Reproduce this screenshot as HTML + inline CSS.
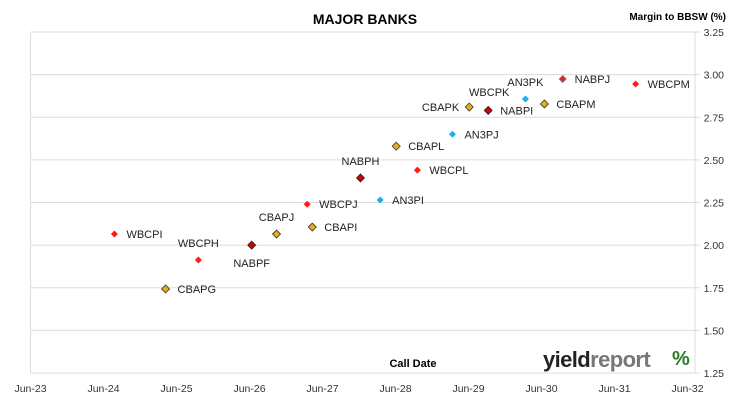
<!DOCTYPE html>
<html><head><meta charset="utf-8"><style>
body{margin:0;background:#fff}
svg{display:block;font-family:"Liberation Sans",sans-serif}
</style></head><body>
<svg id="chart" width="730" height="400">
<text x="365" y="24" text-anchor="middle" font-size="14" font-weight="bold">MAJOR BANKS</text>
<text x="726" y="20" text-anchor="end" font-size="10" font-weight="bold">Margin to BBSW (%)</text>
<text x="413" y="367" text-anchor="middle" font-size="11" font-weight="bold">Call Date</text>
<g id="grid"></g><g id="marks"></g>
<text x="543" y="367" font-size="22" font-weight="bold" letter-spacing="-0.6"><tspan fill="#222">yield</tspan><tspan fill="#777">report</tspan></text>
<text x="672" y="365" font-size="20" font-weight="bold" fill="#2a7a2a">%</text>
</svg>
<script>
const names=["WBCPI","CBAPG","WBCPH","NABPF","CBAPJ","WBCPJ","CBAPI","NABPH","AN3PI","CBAPL","WBCPL","AN3PJ","WBCPK","CBAPK","NABPI","AN3PK","CBAPM","NABPJ","WBCPM"];
const dates=[2024.65,2025.35,2025.80,2026.53,2026.87,2027.29,2027.36,2028.02,2028.29,2028.51,2028.80,2029.28,2029.51,2029.51,2029.77,2030.28,2030.54,2030.79,2031.79];
const margins=[2.065,1.743,1.913,2.0,2.065,2.24,2.106,2.394,2.265,2.58,2.44,2.65,2.81,2.81,2.79,2.857,2.828,2.974,2.945];
const issuers=["WBC","CBA","WBC","NAB","CBA","WBC","CBA","NAB","ANZ","CBA","WBC","ANZ","WBC","CBA","NAB","ANZ","CBA","NAB2","WBC"];
const labelPos=["r","r","a","b","a","r","r","a","r","r","r","r","a2","l","r","a","r","r","r"];
const yTicks=["1.25","1.50","1.75","2.00","2.25","2.50","2.75","3.00","3.25"];
const xTicks=["Jun-23","Jun-24","Jun-25","Jun-26","Jun-27","Jun-28","Jun-29","Jun-30","Jun-31","Jun-32"];
const L=30.5,R=695,T=32,B=373;
const x=t=>L+(t-2023.5)*73;
const y=v=>B-(v-1.25)/2*(B-T);
const NS="http://www.w3.org/2000/svg";
function mk(tag,attrs,parent,txt){const e=document.createElementNS(NS,tag);for(const k in attrs)e.setAttribute(k,attrs[k]);if(txt!==undefined)e.textContent=txt;parent.appendChild(e);return e;}
const grid=document.getElementById('grid'),marks=document.getElementById('marks');
yTicks.forEach((t,i)=>{const yy=y(parseFloat(t));
 const ln=mk('line',{x1:L,x2:R+5,y1:yy,y2:yy,stroke:'#dcdcdc','stroke-width':1},grid);
 
 
 const tx=mk('text',{x:724,y:yy+4,'text-anchor':'end','font-size':10.5,fill:'#333'},grid,t);
 
 
});
const ax=mk('line',{x1:L,x2:L,y1:T,y2:B,stroke:'#dcdcdc'},grid);


const ax2=mk('line',{x1:R,x2:R,y1:T,y2:B,stroke:'#dcdcdc'},grid);


xTicks.forEach((t,i)=>{
 const tx=mk('text',{x:x(2023.5+i),y:392,'text-anchor':'middle','font-size':10.5,fill:'#333'},grid,t);
 
 
});
const style={WBC:{f:'#ff1a1a',s:'none',r:3.5},CBA:{f:'#e6b012',s:'#333',r:4},NAB:{f:'#d40000',s:'#222',r:4},ANZ:{f:'#1ab0f0',s:'none',r:3.5},NAB2:{f:'#ff1a1a',s:'#6a70b0',r:3.5}};
names.forEach((n,i)=>{
 const cx=x(dates[i]),cy=y(margins[i]),st=style[issuers[i]],r=st.r;
 const p=mk('polygon',{points:`${cx},${cy-r} ${cx+r},${cy} ${cx},${cy+r} ${cx-r},${cy}`,fill:st.f,stroke:st.s,'stroke-width':0.8},marks);
 
 
 let lx=cx+12,ly=cy+4,anc='start';const lp=labelPos[i];
 if(lp==='a'){lx=cx;ly=cy-13;anc='middle';}
 if(lp==='a2'){lx=cx+20;ly=cy-11;anc='middle';}
 if(lp==='b'){lx=cx;ly=cy+22;anc='middle';}
 if(lp==='l'){lx=cx-10;anc='end';}
 const t=mk('text',{x:lx,y:ly,'text-anchor':anc,'font-size':11,fill:'#222'},marks,n);
 
 
});
</script>
</body></html>
